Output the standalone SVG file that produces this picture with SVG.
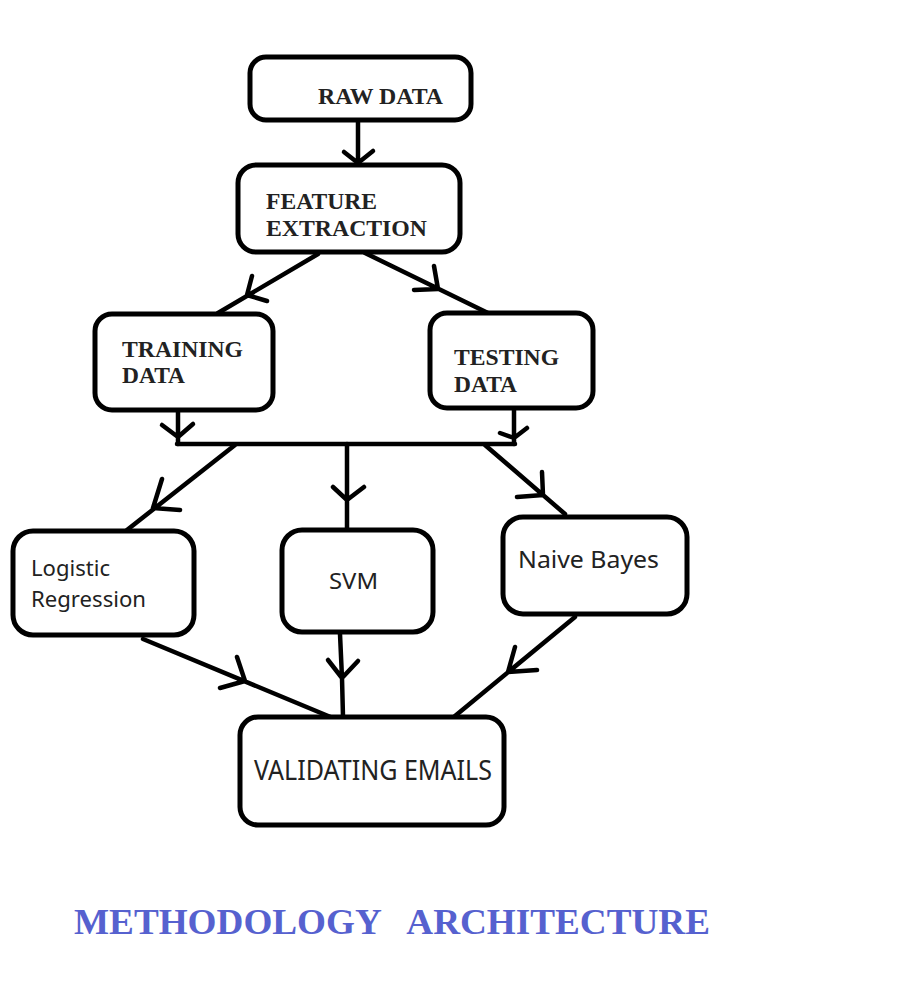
<svg xmlns="http://www.w3.org/2000/svg" width="921" height="982" viewBox="0 0 921 982">
<style>
.box{fill:#fff;stroke:#000;stroke-width:5}
.ln{fill:none;stroke:#000;stroke-width:4.5;stroke-linecap:round;stroke-linejoin:round}
.bs{font-family:"Liberation Serif","Times New Roman",serif;font-weight:bold;font-size:24px;fill:#222}
.sn{font-family:"Noto Sans","Open Sans",sans-serif;fill:#222}
.title{font-family:"Liberation Serif","Times New Roman",serif;font-weight:bold;font-size:36px;fill:#5661cf;white-space:pre}
</style>
<rect width="921" height="982" fill="#fff"/>
<g id="connectors">
<path class="ln" d="M358 121 L358 165 M344 152 L358 163 L373 151"/>
<path class="ln" d="M318 254 L218 313 M252 276 L247 295 L267 301"/>
<path class="ln" d="M365 253 L488 313 M434 266 L438 289 L414 290"/>
<path class="ln" d="M178 410 L178 444 M162 425 L178 437 L193 424"/>
<path class="ln" d="M514 408 L514 444 M500 433 L514 438 L527 428"/>
<path class="ln" d="M177 444 L515 444"/>
<path class="ln" d="M347 444 L347 529 M333 487 L347 500 L364 487"/>
<path class="ln" d="M235 445 L127 530 M162 479 L153 508 L180 510"/>
<path class="ln" d="M485 445 L565 514 M542 472 L543 495 L517 497"/>
<path class="ln" d="M143 639 L333 718 M237 657 L245 681 L220 688"/>
<path class="ln" d="M340 634 L342 678 L343 717 M328 660 L342 678 L358 661"/>
<path class="ln" d="M575 617 L455 716 M515 647 L508 672 L537 670"/>
</g>
<g id="raw-data">
<rect class="box" x="250" y="57" width="221" height="63" rx="16"/>
<text class="bs" x="318" y="104" textLength="125" lengthAdjust="spacingAndGlyphs">RAW DATA</text>
</g>
<g id="feature-extraction">
<rect class="box" x="238" y="165" width="222" height="87" rx="18"/>
<text class="bs" x="266" y="209" textLength="111" lengthAdjust="spacingAndGlyphs">FEATURE</text>
<text class="bs" x="266" y="236" textLength="161" lengthAdjust="spacingAndGlyphs">EXTRACTION</text>
</g>
<g id="training-data">
<rect class="box" x="95" y="314" width="178" height="96" rx="17"/>
<text class="bs" x="122" y="357" textLength="121" lengthAdjust="spacingAndGlyphs">TRAINING</text>
<text class="bs" x="122" y="383" textLength="63" lengthAdjust="spacingAndGlyphs">DATA</text>
</g>
<g id="testing-data">
<rect class="box" x="430" y="313" width="163" height="95" rx="17"/>
<text class="bs" x="454" y="365" textLength="105" lengthAdjust="spacingAndGlyphs">TESTING</text>
<text class="bs" x="454" y="392" textLength="63" lengthAdjust="spacingAndGlyphs">DATA</text>
</g>
<g id="logistic-regression">
<rect class="box" x="13" y="531" width="181" height="104" rx="20"/>
<text class="sn" x="31" y="576" font-size="21" textLength="79" lengthAdjust="spacingAndGlyphs">Logistic</text>
<text class="sn" x="31" y="607" font-size="21" textLength="115" lengthAdjust="spacingAndGlyphs">Regression</text>
</g>
<g id="svm">
<rect class="box" x="282" y="530" width="151" height="102" rx="20"/>
<text class="sn" x="329" y="589" font-size="21" textLength="49" lengthAdjust="spacingAndGlyphs">SVM</text>
</g>
<g id="naive-bayes">
<rect class="box" x="503" y="517" width="184" height="97" rx="20"/>
<text class="sn" x="518" y="568" font-size="24" textLength="141" lengthAdjust="spacingAndGlyphs">Naive Bayes</text>
</g>
<g id="validating-emails">
<rect class="box" x="240" y="717" width="264" height="108" rx="18"/>
<text class="sn" x="254" y="780" font-size="28" textLength="238" lengthAdjust="spacingAndGlyphs">VALIDATING EMAILS</text>
</g>
<text class="title" x="74" y="934" textLength="636" lengthAdjust="spacingAndGlyphs">METHODOLOGY   ARCHITECTURE</text>
</svg>
